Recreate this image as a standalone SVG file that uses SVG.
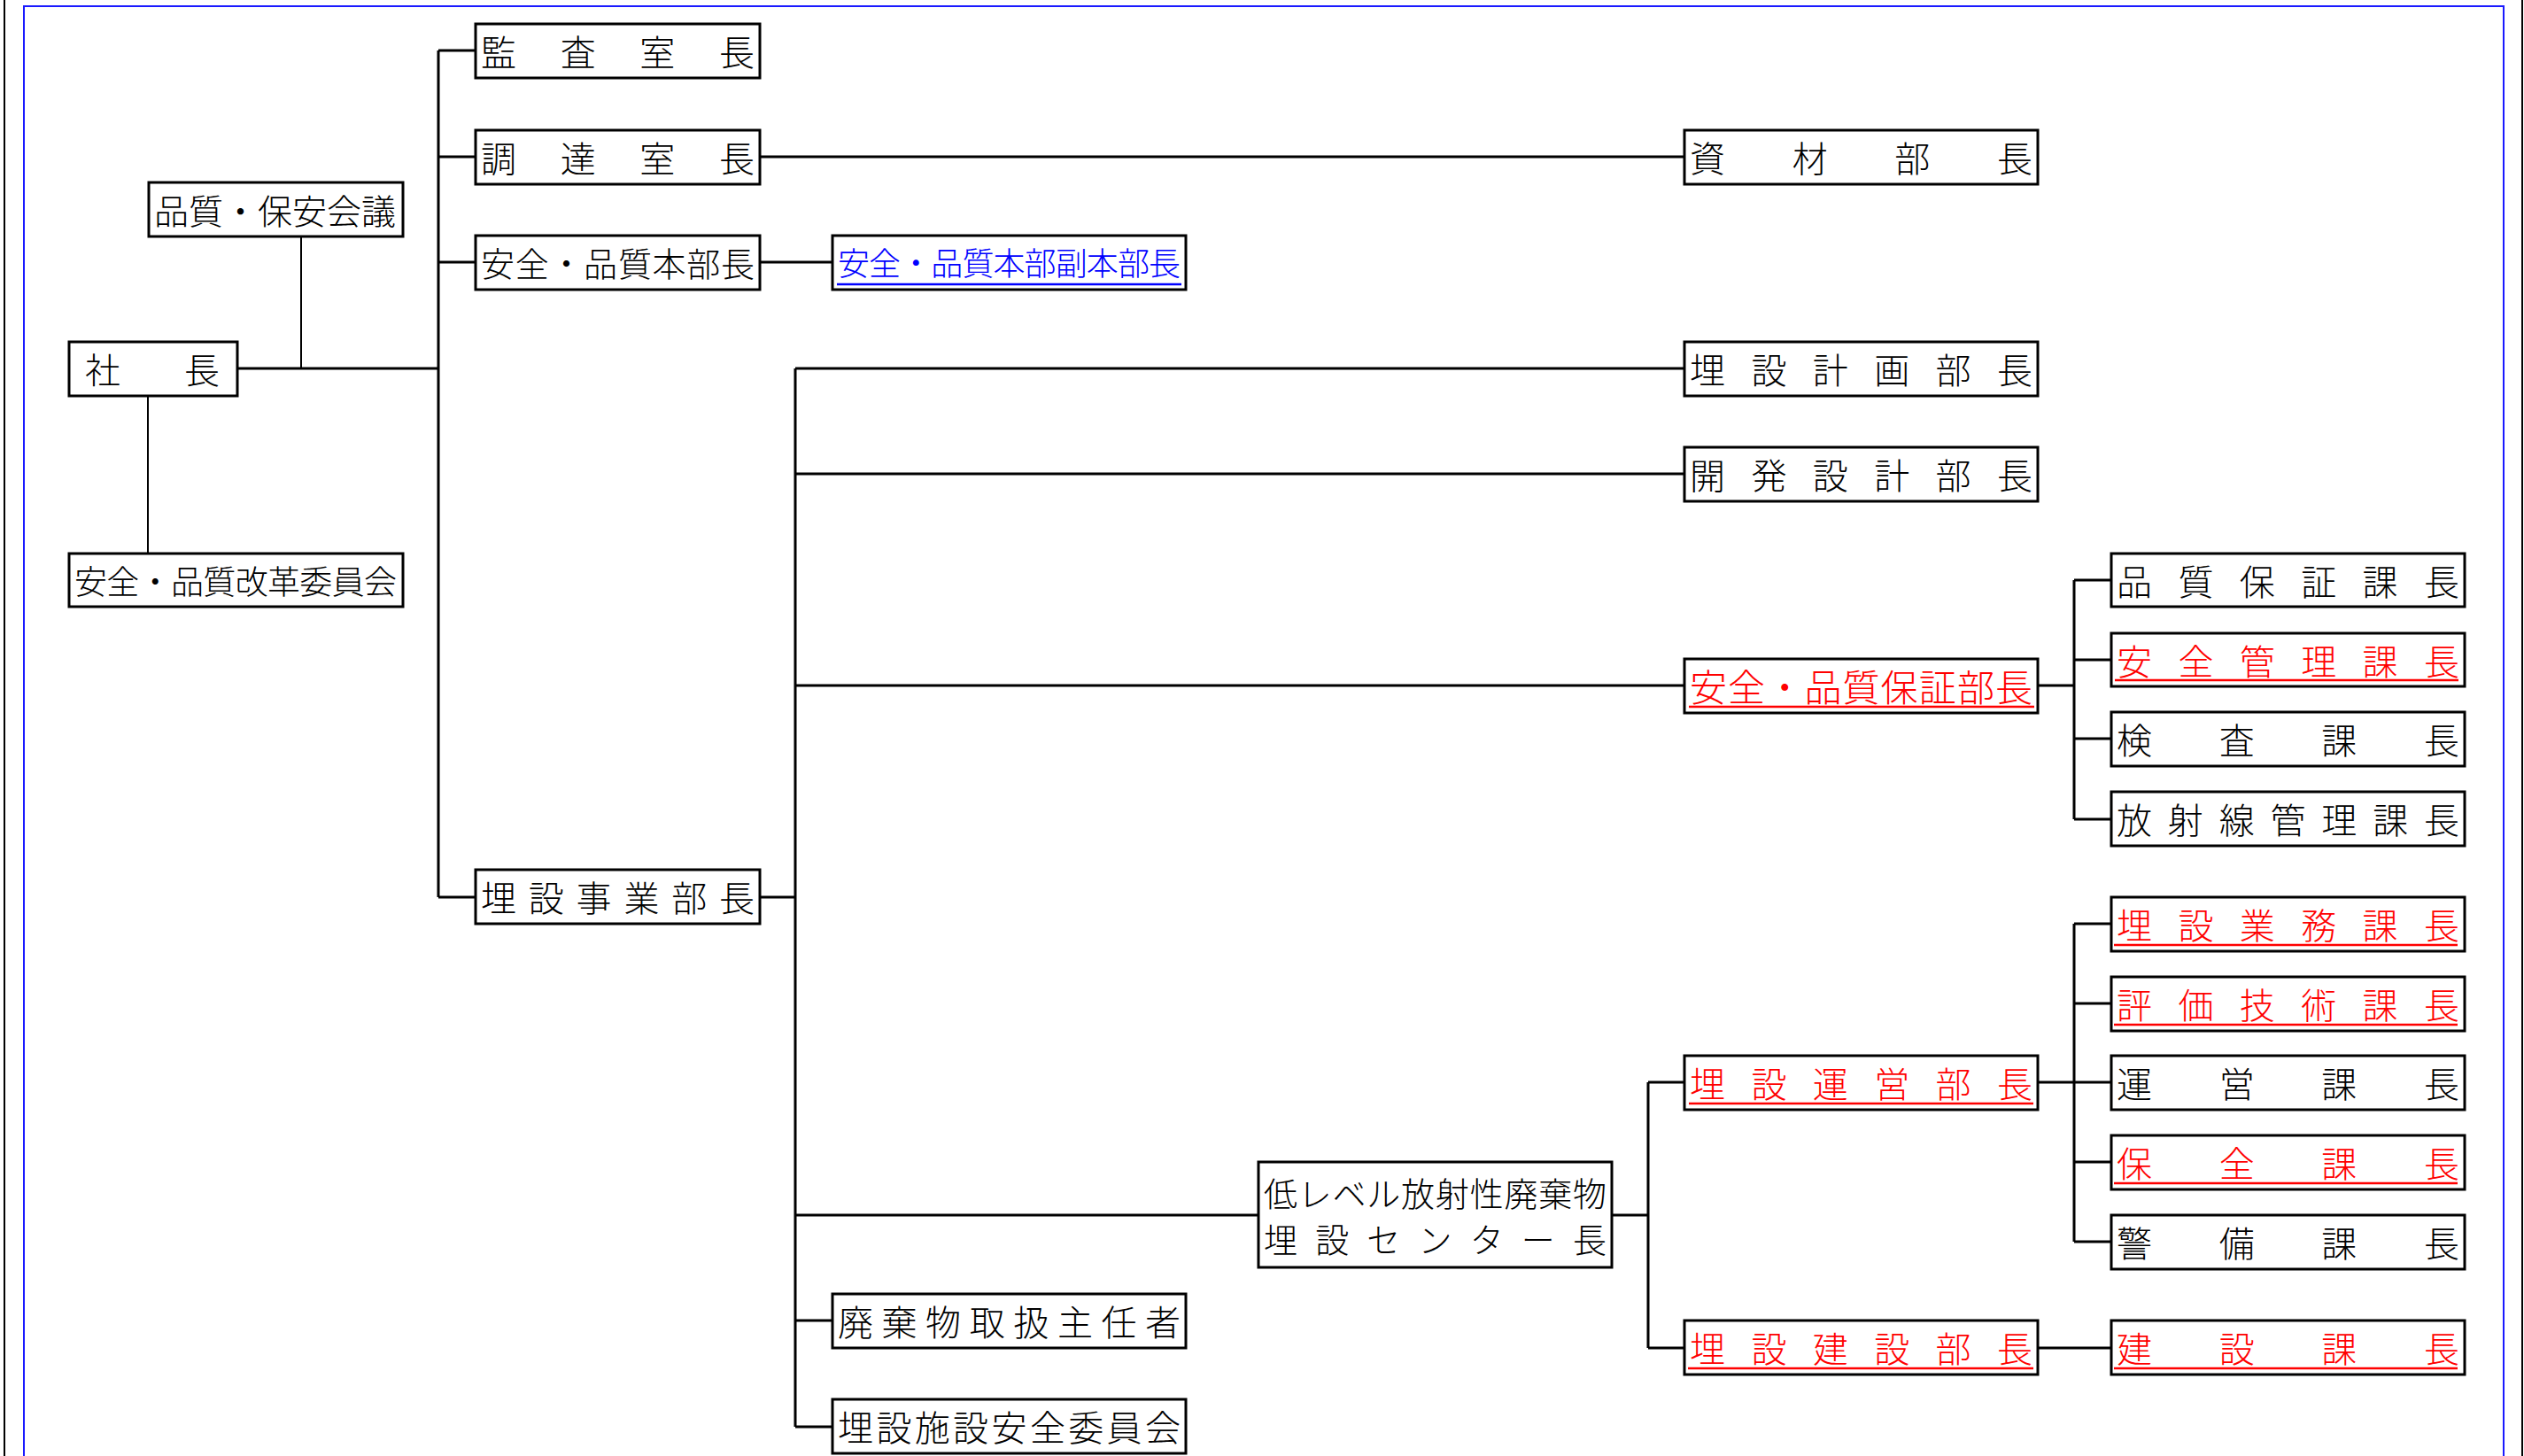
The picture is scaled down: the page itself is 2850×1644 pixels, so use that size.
<svg xmlns="http://www.w3.org/2000/svg" width="2850" height="1644" viewBox="0 0 2850 1644">
<style>
.box{fill:#fff;stroke:#000;stroke-width:3}
.t{font-family:"Noto Sans CJK JP","Noto Sans CJK SC",sans-serif;font-size:40px;font-weight:300;fill:#000}
.red{fill:#f00}
.blue{fill:#00f}
.ur{stroke:#f00;stroke-width:2.5}
.ub{stroke:#00f;stroke-width:2.5}
.c{stroke:#000;stroke-width:3;fill:none}
.c2{stroke:#000;stroke-width:2;fill:none}
</style>
<rect width="2850" height="1644" fill="#fff"/>
<g id="frame">
<line x1="5" y1="0" x2="5" y2="1644" stroke="#000" stroke-width="2"/>
<line x1="2848" y1="0" x2="2848" y2="1644" stroke="#000" stroke-width="2"/>
<path d="M27 1650 V7 H2827 V1650" fill="none" stroke="#1a1aff" stroke-width="2"/>
</g>
<g id="connectors">
<path class="c" d="M495 57 V1013 M495 57 H537 M495 177 H537 M495 296 H537 M495 1013 H537 M268 416 H495"/>
<path class="c2" d="M340 267 V416 M167 447 V625"/>
<path class="c" d="M858 177 H1902 M858 296 H940 M858 1013 H898"/>
<path class="c" d="M898 416 V1611 M898 416 H1902 M898 535 H1902 M898 774 H1902 M898 1372 H1421 M898 1491 H940 M898 1611 H940"/>
<path class="c" d="M1820 1372 H1861 M1861 1222 V1522 M1861 1222 H1902 M1861 1522 H1902"/>
<path class="c" d="M2301 774 H2342 M2342 655 V925 M2342 655 H2384 M2342 745 H2384 M2342 834 H2384 M2342 925 H2384"/>
<path class="c" d="M2301 1222 H2384 M2342 1043 V1402 M2342 1043 H2384 M2342 1133 H2384 M2342 1312 H2384 M2342 1402 H2384"/>
<path class="c" d="M2301 1522 H2384"/>
</g>
<g id="n_shacho"><rect class="box" x="78" y="386" width="190" height="61"/><text class="t" x="96 208" y="433">社長</text></g>
<g id="n_hinshitsu_hoan_kaigi"><rect class="box" x="168" y="206" width="287" height="61"/><text class="t" style="font-size:39px" x="174 213 252 291 330 369 408" y="253">品質・保安会議</text></g>
<g id="n_kaikaku_iinkai"><rect class="box" x="78" y="625" width="377" height="60"/><text class="t" style="font-size:37px" x="84 120.3 156.7 193 229.3 265.7 302 338.3 374.7 411" y="671">安全・品質改革委員会</text></g>
<g id="n_kansa"><rect class="box" x="537" y="27" width="321" height="61"/><text class="t" x="543 632.7 722.3 812" y="74">監査室長</text></g>
<g id="n_chotatsu"><rect class="box" x="537" y="147" width="321" height="61"/><text class="t" x="543 632.7 722.3 812" y="194">調達室長</text></g>
<g id="n_honbucho"><rect class="box" x="537" y="266" width="321" height="61"/><text class="t" style="font-size:38px" x="543 581.7 620.4 659.1 697.9 736.6 775.3 814" y="312">安全・品質本部長</text></g>
<g id="n_fukuhonbucho"><rect class="box" x="940" y="266" width="399" height="61"/><text class="t blue" style="font-size:36px" x="946 981.1 1016.2 1051.3 1086.4 1121.5 1156.6 1191.7 1226.8 1261.9 1297" y="311">安全・品質本部副本部長</text><line class="ub" x1="945" y1="321" x2="1334" y2="321"/></g>
<g id="n_maisetsu_jigyo"><rect class="box" x="537" y="982" width="321" height="61"/><text class="t" x="543 596.8 650.6 704.4 758.2 812" y="1029">埋設事業部長</text></g>
<g id="n_shizai"><rect class="box" x="1902" y="147" width="399" height="61"/><text class="t" x="1908 2023.7 2139.3 2255" y="194">資材部長</text></g>
<g id="n_keikaku"><rect class="box" x="1902" y="386" width="399" height="61"/><text class="t" x="1908 1977.4 2046.8 2116.2 2185.6 2255" y="433">埋設計画部長</text></g>
<g id="n_kaihatsu"><rect class="box" x="1902" y="505" width="399" height="61"/><text class="t" x="1908 1977.4 2046.8 2116.2 2185.6 2255" y="552">開発設計部長</text></g>
<g id="n_hosho"><rect class="box" x="1902" y="744" width="399" height="61"/><text class="t red" style="font-size:42px" x="1908 1951.1 1994.3 2037.4 2080.5 2123.6 2166.8 2209.9 2253" y="792">安全・品質保証部長</text><line class="ur" x1="1907" y1="798" x2="2297" y2="798"/></g>
<g id="n_center"><rect class="box" x="1421" y="1312" width="399" height="119"/><text class="t" style="font-size:38px" x="1427 1465.8 1504.6 1543.3 1582.1 1620.9 1659.7 1698.4 1737.2 1776" y="1362">低レベル放射性廃棄物</text><text class="t" style="font-size:38px" x="1427 1485.2 1543.3 1601.5 1659.7 1717.8 1776" y="1414">埋設センター長</text></g>
<g id="n_haikibutsu"><rect class="box" x="940" y="1461" width="399" height="61"/><text class="t" x="946 995.6 1045.1 1094.7 1144.3 1193.9 1243.4 1293" y="1508">廃棄物取扱主任者</text></g>
<g id="n_anzen_iinkai"><rect class="box" x="940" y="1580" width="399" height="61"/><text class="t" x="946 989.4 1032.8 1076.1 1119.5 1162.9 1206.3 1249.6 1293" y="1627">埋設施設安全委員会</text></g>
<g id="n_unei_bu"><rect class="box" x="1902" y="1192" width="399" height="61"/><text class="t red" x="1908 1977.4 2046.8 2116.2 2185.6 2255" y="1239">埋設運営部長</text><line class="ur" x1="1907" y1="1246" x2="2296" y2="1246"/></g>
<g id="n_kensetsu_bu"><rect class="box" x="1902" y="1491" width="399" height="61"/><text class="t red" x="1908 1977.4 2046.8 2116.2 2185.6 2255" y="1538">埋設建設部長</text><line class="ur" x1="1906" y1="1545" x2="2296" y2="1545"/></g>
<g id="n_hinshitsu_hosho_ka"><rect class="box" x="2384" y="625" width="399" height="60"/><text class="t" x="2390 2459.4 2528.8 2598.2 2667.6 2737" y="672">品質保証課長</text></g>
<g id="n_anzen_kanri_ka"><rect class="box" x="2384" y="715" width="399" height="60"/><text class="t red" x="2390 2459.4 2528.8 2598.2 2667.6 2737" y="762">安全管理課長</text><line class="ur" x1="2388" y1="768" x2="2776" y2="768"/></g>
<g id="n_kensa_ka"><rect class="box" x="2384" y="804" width="399" height="61"/><text class="t" x="2390 2505.7 2621.3 2737" y="851">検査課長</text></g>
<g id="n_hoshasen_ka"><rect class="box" x="2384" y="894" width="399" height="61"/><text class="t" x="2390 2447.8 2505.7 2563.5 2621.3 2679.2 2737" y="941">放射線管理課長</text></g>
<g id="n_gyomu_ka"><rect class="box" x="2384" y="1013" width="399" height="61"/><text class="t red" x="2390 2459.4 2528.8 2598.2 2667.6 2737" y="1060">埋設業務課長</text><line class="ur" x1="2387" y1="1067" x2="2775" y2="1067"/></g>
<g id="n_hyoka_ka"><rect class="box" x="2384" y="1103" width="399" height="61"/><text class="t red" x="2390 2459.4 2528.8 2598.2 2667.6 2737" y="1150">評価技術課長</text><line class="ur" x1="2387" y1="1157" x2="2775" y2="1157"/></g>
<g id="n_unei_ka"><rect class="box" x="2384" y="1192" width="399" height="61"/><text class="t" x="2390 2505.7 2621.3 2737" y="1239">運営課長</text></g>
<g id="n_hozen_ka"><rect class="box" x="2384" y="1282" width="399" height="61"/><text class="t red" x="2390 2505.7 2621.3 2737" y="1329">保全課長</text><line class="ur" x1="2387" y1="1336" x2="2775" y2="1336"/></g>
<g id="n_keibi_ka"><rect class="box" x="2384" y="1372" width="399" height="61"/><text class="t" x="2390 2505.7 2621.3 2737" y="1419">警備課長</text></g>
<g id="n_kensetsu_ka"><rect class="box" x="2384" y="1491" width="399" height="61"/><text class="t red" x="2390 2505.7 2621.3 2737" y="1538">建設課長</text><line class="ur" x1="2387" y1="1545" x2="2775" y2="1545"/></g>
</svg>
